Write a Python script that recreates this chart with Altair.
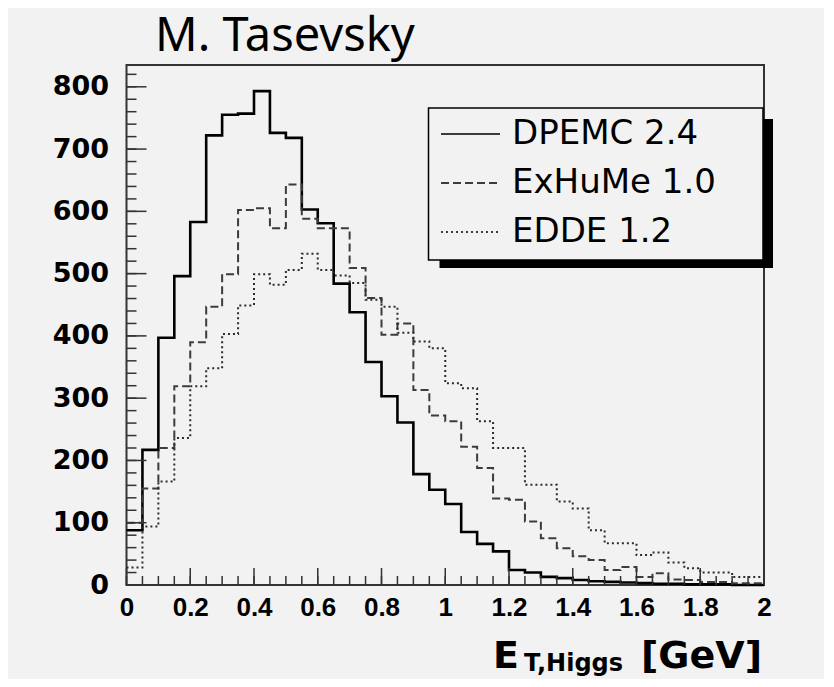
import altair as alt
import pandas as pd

# ---------------- data ----------------
models = ["DPEMC 2.4", "ExHuMe 1.0", "EDDE 1.2"]
bin_width = 0.05
bin_lo = [round(i * bin_width, 2) for i in range(40)]  # 0.00 .. 1.95

dpemc = [88, 217, 397, 496, 583, 722, 755, 757, 793, 726,
         718, 603, 581, 484, 438, 358, 303, 261, 178, 153,
         130, 85, 66, 54, 24, 20, 13, 11, 8, 6,
         5, 4, 3, 2, 2, 1, 1, 1, 0, 0]
exhume = [100, 155, 220, 319, 390, 447, 499, 602, 605, 573,
          643, 588, 573, 573, 509, 461, 402, 420, 313, 272,
          263, 222, 188, 139, 137, 102, 75, 59, 46, 40,
          24, 29, 13, 19, 9, 8, 5, 5, 3, 3]
edde = [28, 94, 166, 236, 319, 348, 403, 449, 499, 482,
        506, 532, 506, 497, 485, 458, 447, 405, 391, 380,
        324, 316, 263, 220, 220, 161, 161, 134, 123, 88,
        67, 67, 48, 52, 36, 27, 20, 20, 13, 13]

x_labels = [0, 0.2, 0.4, 0.6, 0.8, 1.0, 1.2, 1.4, 1.6, 1.8, 2.0]
y_labels = [0, 100, 200, 300, 400, 500, 600, 700, 800]
x_minor = [round(i * 0.05, 2) for i in range(41)]
y_minor = [i * 20 for i in range(42)]

rows = []
for name, vals in zip(models, [dpemc, exhume, edde]):
    for x, v in zip(bin_lo, vals):
        rows.append({"x": x, "n": v, "model": name})
    rows.append({"x": 2.0, "n": vals[-1], "model": name})
df = pd.DataFrame(rows)

# ---------------- layout ----------------
W, H = 637.5, 520
xs = alt.Scale(domain=[0, 2], nice=False, zero=False)
ys = alt.Scale(domain=[0, 835], nice=False, zero=True)
dash_scale = alt.Scale(domain=models, range=[[1, 0], [8, 4], [2, 3]])

x_axis = alt.Axis(values=x_labels, format="~g", labelFont="Liberation Sans",
                  labelFontWeight="bold", labelFontSize=26, labelColor="black",
                  labelPadding=9, ticks=False, domain=False, grid=False,
                  labelFlush=False, title=None)
y_axis = alt.Axis(values=y_labels, labelFont="DejaVu Sans", labelFontWeight="bold",
                  labelFontSize=27, labelColor="black", labelPadding=18,
                  ticks=False, domain=False, grid=False, title=None)
legend = alt.Legend(orient="none", legendX=313.5, legendY=38.5, title=None,
                    symbolType="stroke", symbolSize=3481, symbolStrokeWidth=1.5,
                    symbolStrokeColor="black", labelFont="DejaVu Sans",
                    labelFontSize=34, labelColor="black", labelOffset=11,
                    rowPadding=1, padding=0, labelLimit=400)

one = alt.Data(values=[{"k": 1}])

shadow = alt.Chart(one).mark_rect(color="black").encode(
    x=alt.value(313), x2=alt.value(646.5), y=alt.value(54), y2=alt.value(203))
box = alt.Chart(one).mark_rect(fill="#f2f2f2", stroke="black", strokeWidth=1.5).encode(
    x=alt.value(302), x2=alt.value(636.5), y=alt.value(43), y2=alt.value(195))


def xticks(vals, length):
    return alt.Chart(alt.Data(values=[{"t": v} for v in vals])).mark_rule(
        color="#333", strokeWidth=1.5).encode(
        x=alt.X("t:Q", scale=xs, axis=x_axis), y=alt.value(H), y2=alt.value(H - length))


def yticks(vals, length):
    return alt.Chart(alt.Data(values=[{"t": v} for v in vals])).mark_rule(
        color="#333", strokeWidth=1.5).encode(
        y=alt.Y("t:Q", scale=ys, axis=y_axis), x=alt.value(0), x2=alt.value(length))


def series(name, color, width):
    return alt.Chart(df).transform_filter(alt.datum.model == name).mark_line(
        interpolate="step-after", color=color, strokeWidth=width).encode(
        x=alt.X("x:Q", scale=xs, axis=x_axis),
        y=alt.Y("n:Q", scale=ys, axis=y_axis),
        strokeDash=alt.StrokeDash("model:N", scale=dash_scale, legend=legend),
    )


def label(txt, size, align, px, py):
    return alt.Chart(one).mark_text(text=txt, font="DejaVu Sans", fontWeight="bold",
                                    fontSize=size, align=align, baseline="alphabetic",
                                    color="black").encode(x=alt.value(px), y=alt.value(py))


title = alt.Chart(one).mark_text(text="M. Tasevsky", font="Noto Sans", fontSize=47,
                                 align="left", baseline="alphabetic",
                                 color="black").encode(x=alt.value(28.5), y=alt.value(-14))

chart = alt.layer(
    series(models[0], "black", 2.6),
    series(models[1], "#3c3c3c", 2.0),
    series(models[2], "#2c2c2c", 2.0),
    shadow, box,
    xticks(x_minor, 9), xticks(x_labels, 17),
    yticks(y_minor, 10), yticks(y_labels, 20),
    label("E", 38, "left", 366.5, 603),
    label("T,Higgs", 24, "left", 397.5, 606),
    label("[GeV]", 38, "right", 635.5, 603),
    title,
).properties(
    width=W, height=H,
    autosize=alt.AutoSizeParams(type="none"),
    padding={"left": 118.5, "top": 57, "right": 60, "bottom": 94},
    background="#f2f2f2",
).configure_view(stroke="#333", strokeWidth=2, fill=None)

chart.save("out.html", embed_options={"renderer": "svg", "actions": False})
